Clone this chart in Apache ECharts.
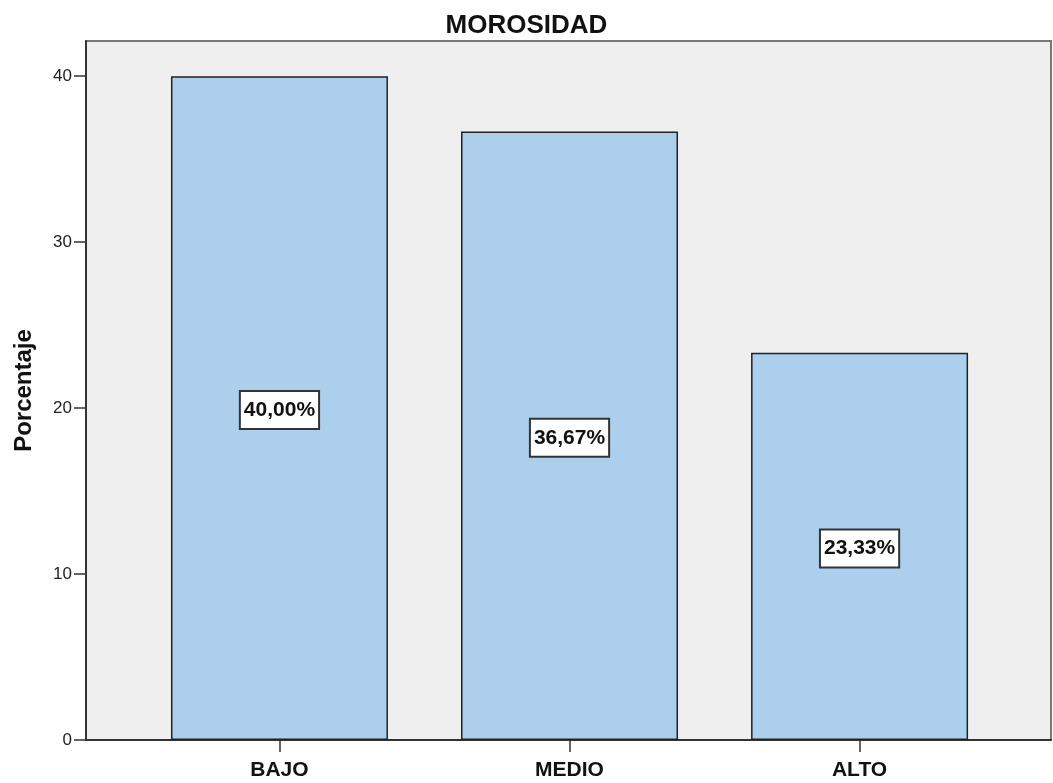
<!DOCTYPE html>
<html>
<head>
<meta charset="utf-8">
<script src="https://cdn.jsdelivr.net/npm/echarts@6/dist/echarts.min.js"></script>
<style>
  html, body { margin: 0; padding: 0; background: #ffffff; }
  #chart { width: 1053px; height: 783px; }
</style>
</head>
<body>
<div id="chart"></div>
<script>
// Morosidad: porcentaje por nivel
const categories = ['BAJO', 'MEDIO', 'ALTO'];
const percentages = [40.00, 36.67, 23.33];
const yTicks = [0, 10, 20, 30, 40];

const positions = categories.map((c, i) => i);
const fontMain = 'Arial, "Liberation Sans", sans-serif';

const chart = echarts.init(document.getElementById('chart'), null, { renderer: 'canvas' });

chart.setOption({
  animation: false,
  backgroundColor: '#ffffff',
  title: {
    text: 'MOROSIDAD',
    left: 'center',
    top: 8,
    textStyle: { fontFamily: fontMain, fontWeight: 'bold', fontSize: 26, color: '#111' }
  },
  grid: {
    left: 86, right: 2, top: 41, bottom: 43,
    show: true,
    backgroundColor: '#efefef',
    borderColor: '#777',
    borderWidth: 2
  },
  xAxis: {
    type: 'value',
    min: -0.667,
    max: 2.66,
    splitLine: { show: false },
    axisLine: { show: true, onZero: false, lineStyle: { color: '#333', width: 2 } },
    axisTick: { show: true, customValues: positions, length: 12, lineStyle: { color: '#333', width: 1.5 } },
    axisLabel: {
      customValues: positions,
      formatter: v => categories[Math.round(v)],
      fontFamily: fontMain, fontWeight: 'bold', fontSize: 21, color: '#111', margin: 20
    }
  },
  yAxis: {
    type: 'value',
    min: 0,
    max: 42.12,
    name: 'Porcentaje',
    nameLocation: 'middle',
    nameGap: 50,
    nameTextStyle: { fontFamily: fontMain, fontWeight: 'bold', fontSize: 24, color: '#111' },
    splitLine: { show: false },
    axisLine: { show: true, onZero: false, lineStyle: { color: '#333', width: 2 } },
    axisTick: { show: true, customValues: yTicks, length: 12, lineStyle: { color: '#333', width: 1.5 } },
    axisLabel: {
      customValues: yTicks,
      fontFamily: fontMain, fontSize: 17, color: '#222', margin: 14,
      padding: [5, 0, 0, 0]
    }
  },
  series: [{
    type: 'bar',
    data: percentages.map((v, i) => [positions[i], v]),
    barWidth: 217,
    itemStyle: { color: '#accfee', borderColor: '#222', borderWidth: 1.5 },
    label: {
      show: true,
      position: 'inside',
      offset: [0, 2],
      formatter: p => p.value[1].toFixed(2).replace('.', ',') + '%',
      fontFamily: fontMain,
      fontWeight: 'bold',
      fontSize: 21,
      lineHeight: 21,
      color: '#111',
      backgroundColor: '#ffffff',
      borderColor: '#333',
      borderWidth: 2,
      padding: [8, 3, 7, 3]
    }
  }]
});
</script>
</body>
</html>
